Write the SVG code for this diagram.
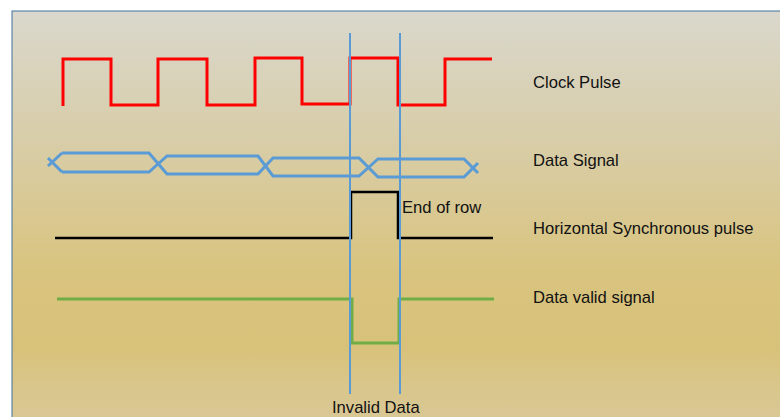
<svg xmlns="http://www.w3.org/2000/svg" width="780" height="417" viewBox="0 0 780 417">
  <defs>
    <linearGradient id="bg" gradientUnits="userSpaceOnUse" x1="0" y1="11" x2="0" y2="417">
      <stop offset="0" stop-color="#dad8cd"/>
      <stop offset="0.32" stop-color="#d8cda8"/>
      <stop offset="0.64" stop-color="#d9c47f"/>
      <stop offset="0.83" stop-color="#d8c27a"/>
      <stop offset="0.93" stop-color="#d9c68c"/>
      <stop offset="1" stop-color="#d9c794"/>
    </linearGradient>
  </defs>
  <style>
    .wave { fill: none; stroke-linejoin: miter; stroke-linecap: butt; }
    .clk { stroke: #ff0000; stroke-width: 3; }
    .data { stroke: #5b9bd5; stroke-width: 3; }
    .hs { stroke: #000000; stroke-width: 2.5; }
    .dv { stroke: #70ad47; stroke-width: 3; }
    .marker { stroke: #5b9bd5; stroke-width: 2; fill: none; }
    .lbl { font-family: "Liberation Sans", Arial, sans-serif; font-size: 16.6px; fill: #111111; }
  </style>
  <rect x="0" y="0" width="780" height="417" fill="#ffffff"/>
  <rect x="12" y="11" width="780" height="420" fill="url(#bg)" stroke="#41719c" stroke-width="1"/>

  <g id="clock">
    <polyline class="wave clk" points="63,106 63,59 111,59 111,105 158,105 158,59 207,59 207,105 255,105 255,58 302,58 302,104 350,104 350,58 398,58 398,105 445,105 445,59 492,59"/>
    <text class="lbl" x="533" y="88">Clock Pulse</text>
  </g>

  <g id="data">
    <path class="wave data" d="M62,153 H149 L167,174 H258 L273,158 H359 L378,177 H464 L478,163"/>
    <path class="wave data" d="M62,172 H149 L167,156 H258 L273,176 H359 L378,159 H464 L478,173"/>
    <path class="wave data" d="M62,153 L48,166 M62,172 L48,158"/>
    <text class="lbl" x="533" y="166">Data Signal</text>
  </g>

  <g id="hsync">
    <polyline class="wave hs" points="55,238 351,238 351,192 398,192 398,238 493,238"/>
    <text class="lbl" x="402" y="213">End of row</text>
    <text class="lbl" x="533" y="234">Horizontal Synchronous pulse</text>
  </g>

  <g id="datavalid">
    <polyline class="wave dv" points="57,299 352,299 352,343 399,343 399,299 494,299"/>
    <text class="lbl" x="533" y="303">Data valid signal</text>
  </g>

  <g id="connectors">
    <line class="marker" x1="350" y1="33" x2="350" y2="394"/>
    <line class="marker" x1="400" y1="33" x2="400" y2="394"/>
  </g>

  <g id="invalid">
    <text class="lbl" x="332" y="413">Invalid Data</text>
  </g>
</svg>
